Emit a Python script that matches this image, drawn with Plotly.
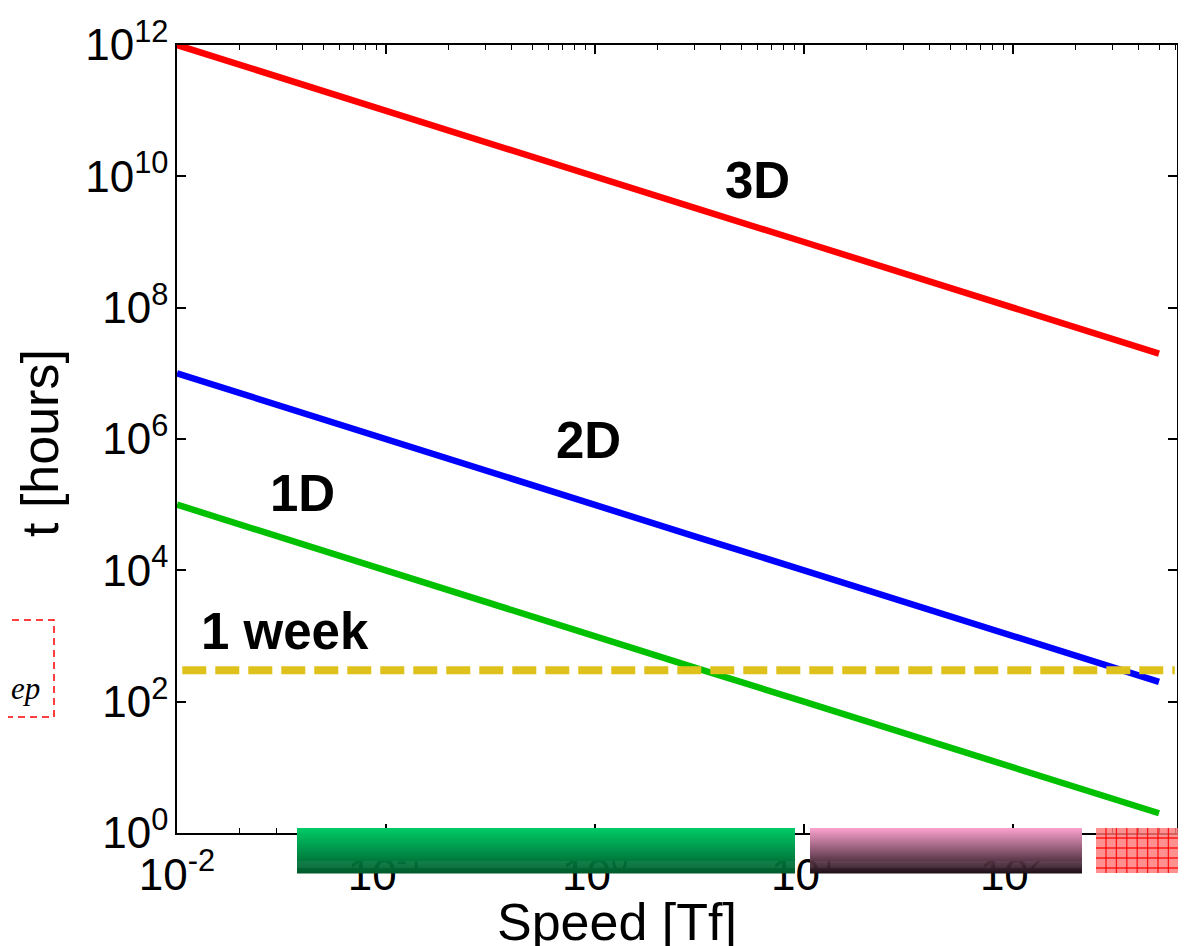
import plotly.graph_objects as go

# ---------------- data ----------------
speed = [0.01, 0.03, 0.1, 0.3, 1, 3, 10, 30, 100, 300, 500]
hours_3d = [1.0e12, 3.3e11, 1.0e11, 3.3e10, 1.0e10, 3.3e9, 1.0e9, 3.3e8, 1.0e8, 3.3e7, 2.0e7]
hours_2d = [1.0e7, 3.3e6, 1.0e6, 3.3e5, 1.0e5, 3.3e4, 1.0e4, 3.3e3, 1.0e3, 3.3e2, 2.0e2]
hours_1d = [1.0e5, 3.3e4, 1.0e4, 3.3e3, 1.0e3, 3.3e2, 1.0e2, 3.3e1, 1.0e1, 3.3, 2.0]
week_speed = [0.0106, 595]
week_hours = [300, 300]

series_names = ["3D", "2D", "1D"]
series_colors = ["#FF0000", "#0000FF", "#00C000"]

x_tickvals = [0.01, 0.1, 1, 10, 100]
x_ticktext = ["10<sup>-2</sup>", "10<sup>-1</sup>", "10<sup>0</sup>", "10<sup>1</sup>", "10<sup>2</sup>"]
y_tickvals = [1, 1e2, 1e4, 1e6, 1e8, 1e10, 1e12]
y_ticktext = ["10<sup>0</sup>", "10<sup>2</sup>", "10<sup>4</sup>", "10<sup>6</sup>",
              "10<sup>8</sup>", "10<sup>10</sup>", "10<sup>12</sup>"]

# ---------------- layout geometry ----------------
OFF = 8                      # default page margin of the html body
W, H = 1186 - OFF, 946 - OFF
# plot area in page pixels: x 177..1177, y 45..833
L, T = 177 - OFF, 45 - OFF
R, B = W - (1177 - OFF), H - (833 - OFF)
PW, PH = W - L - R, H - T - B


def px(x):
    """page pixel x -> paper"""
    return (x - OFF - L) / PW


def py(y):
    """page pixel y -> paper"""
    return (H - B - (y - OFF)) / PH


FONT = "Liberation Sans, Arial, Helvetica, sans-serif"

fig = go.Figure()
for name, vals, col in zip(series_names, [hours_3d, hours_2d, hours_1d], series_colors):
    fig.add_trace(go.Scatter(x=speed, y=vals, mode="lines", name=name,
                             line=dict(color=col, width=6.5), showlegend=False))

fig.add_trace(go.Scatter(x=week_speed, y=week_hours, mode="lines", name="1 week",
                         line=dict(color="#DFC11B", width=8, dash="24px,9px"),
                         showlegend=False))

shapes = []


def gradient_bar(x0, x1, y0, y1, c_top, c_bot, n=46):
    h = (y1 - y0) / n
    for i in range(n):
        t = i / (n - 1)
        c = tuple(round(a + (b - a) * t) for a, b in zip(c_top, c_bot))
        shapes.append(dict(type="rect", xref="paper", yref="paper", layer="above",
                           x0=px(x0), x1=px(x1), y0=py(y0 + i * h), y1=py(y0 + (i + 1) * h + 0.6),
                           fillcolor="rgb(%d,%d,%d)" % c, line=dict(width=0)))


gradient_bar(297, 795, 828, 873, (0, 202, 102), (0, 92, 46))
gradient_bar(810, 1082, 828, 873, (249, 160, 205), (34, 18, 26))

# red hatched block
shapes.append(dict(type="rect", xref="paper", yref="paper", layer="above",
                   x0=px(1096), x1=px(1190), y0=py(828), y1=py(873),
                   fillcolor="rgba(255,120,120,0.82)", line=dict(width=0)))
gx = 1106
while gx < 1190:
    shapes.append(dict(type="line", xref="paper", yref="paper", layer="above",
                       x0=px(gx), x1=px(gx), y0=py(828), y1=py(873),
                       line=dict(color="rgba(255,0,0,0.85)", width=1.3)))
    gx += 10.4
for gy in [838, 848, 858, 868]:
    shapes.append(dict(type="line", xref="paper", yref="paper", layer="above",
                       x0=px(1096), x1=px(1190), y0=py(gy), y1=py(gy),
                       line=dict(color="rgba(255,0,0,0.85)", width=1.3)))

# red dashed box on the left
shapes.append(dict(type="rect", xref="paper", yref="paper", layer="above",
                   x0=px(0), x1=px(54), y0=py(620), y1=py(717),
                   fillcolor="rgba(0,0,0,0)", line=dict(color="#FF0000", width=1.5, dash="7px,5px")))

annotations = []
for txt, cx, cy in [("3D", 757, 180), ("2D", 588, 440), ("1D", 302, 494), ("1 week", 285, 631)]:
    annotations.append(dict(text="<b>%s</b>" % txt, xref="paper", yref="paper",
                            x=px(cx), y=py(cy), xanchor="center", yanchor="middle",
                            showarrow=False, font=dict(family=FONT, size=51, color="black")))

annotations.append(dict(text="t [hours]", xref="paper", yref="paper", x=px(40), y=py(443),
                        xanchor="center", yanchor="middle", textangle=-90, showarrow=False,
                        font=dict(family=FONT, size=52, color="black")))
annotations.append(dict(text="Speed [Tf]", xref="paper", yref="paper", x=px(617), y=py(922),
                        xanchor="center", yanchor="middle", showarrow=False,
                        font=dict(family=FONT, size=52, color="black")))
annotations.append(dict(text="<i>ep</i>", xref="paper", yref="paper", x=px(42), y=py(688),
                        xanchor="right", yanchor="middle", showarrow=False,
                        font=dict(family="Liberation Serif, Times New Roman, serif", size=31, color="black")))

axis_common = dict(showline=True, linecolor="black", linewidth=1.5, mirror="ticks",
                   ticks="inside", ticklen=9, tickwidth=1.5, tickcolor="black",
                   showgrid=False, zeroline=False, tickmode="array", automargin=False,
                   tickfont=dict(family=FONT, size=44, color="black"))

fig.update_layout(
    width=W, height=H,
    margin=dict(l=L, r=R, t=T, b=B, pad=0, autoexpand=False),
    paper_bgcolor="white", plot_bgcolor="white",
    xaxis=dict(type="log", range=[-2, 2.785], tickvals=x_tickvals, ticktext=x_ticktext,
               ticklabelstandoff=2,
               minor=dict(ticks="inside", ticklen=5, tickwidth=1.2, tickcolor="black",
                          dtick="D1", showgrid=False),
               **axis_common),
    yaxis=dict(type="log", range=[0, 12], tickvals=y_tickvals, ticktext=y_ticktext,
               ticklabelstandoff=-2,
               **axis_common),
    shapes=shapes,
    annotations=annotations,
    showlegend=False,
)

fig.write_html("out.html")
